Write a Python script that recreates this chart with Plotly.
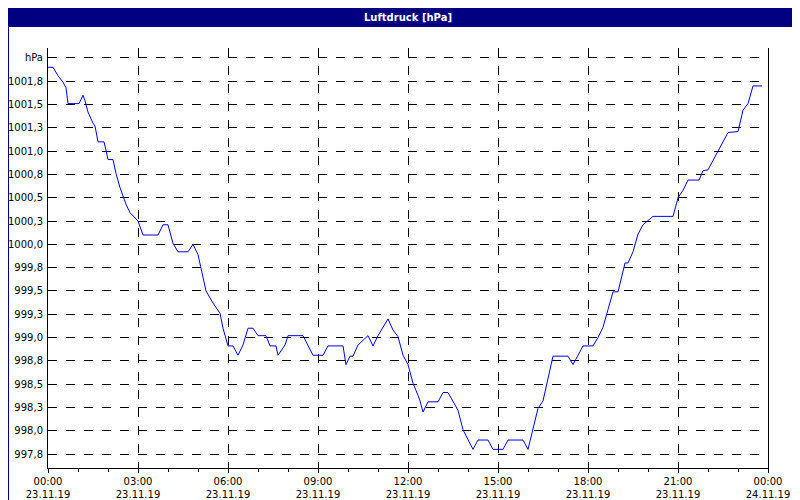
import plotly.graph_objects as go

times = ["00:00","00:10","00:20","00:30","00:36","00:40","01:02","01:10","01:14","01:20","01:30","01:34","01:40","01:52","01:56",
"02:00","02:10","02:16","02:24","02:30","02:36","02:44","03:00","03:10","03:40","03:50","04:00","04:10","04:20","04:40","04:50",
"05:00","05:16","05:30","05:44","05:50","06:00","06:10","06:20","06:30","06:40","06:50","07:00","07:16","07:24","07:36","07:40",
"07:54","08:00","08:30","08:50","09:10","09:20","09:50","09:56","10:04","10:10","10:20","10:40","10:50","11:00","11:20","11:30",
"11:40","11:50","12:00","12:10","12:20","12:24","12:30","12:40","13:00","13:10","13:20","13:30","13:40","13:50","14:00","14:10",
"14:20","14:40","14:50","15:10","15:20","15:50","16:00","16:10","16:20","16:30","16:36","16:50","17:20","17:30","17:50","18:10",
"18:20","18:30","18:40","18:50","19:00","19:14","19:20","19:30","19:40","19:50","20:10","20:50","21:00","21:10","21:20","21:42",
"21:50","22:00","22:20","22:40","23:00","23:10","23:20","23:30","23:48"]
pressure = [1001.90,1001.90,1001.81,1001.74,1001.68,1001.51,1001.51,1001.60,1001.54,1001.42,1001.30,1001.27,1001.10,1001.10,1001.01,
1000.91,1000.91,1000.76,1000.61,1000.51,1000.43,1000.34,1000.25,1000.10,1000.10,1000.21,1000.21,1000.01,999.92,999.92,1000.00,
999.89,999.50,999.37,999.26,999.10,998.91,998.91,998.81,998.92,999.10,999.10,999.02,999.02,998.91,998.91,998.81,
998.92,999.02,999.02,998.81,998.81,998.91,998.91,998.71,998.80,998.80,998.92,999.02,998.91,999.02,999.20,999.08,
999.01,998.81,998.71,998.51,998.38,998.32,998.20,998.31,998.31,998.41,998.41,998.31,998.22,998.01,997.90,997.80,
997.90,997.90,997.80,997.80,997.90,997.90,997.80,998.03,998.24,998.32,998.46,998.80,998.80,998.71,998.91,998.91,
999.00,999.11,999.30,999.49,999.49,999.80,999.80,999.92,1000.11,1000.21,1000.30,1000.30,1000.50,1000.58,1000.69,1000.69,
1000.79,1000.80,1001.00,1001.20,1001.21,1001.44,1001.51,1001.70,1001.70]

x_ticks = ["2019-11-23 00:00","2019-11-23 03:00","2019-11-23 06:00","2019-11-23 09:00","2019-11-23 12:00",
           "2019-11-23 15:00","2019-11-23 18:00","2019-11-23 21:00","2019-11-24 00:00"]
x_ticktext = ["00:00<br>23.11.19","03:00<br>23.11.19","06:00<br>23.11.19","09:00<br>23.11.19","12:00<br>23.11.19",
              "15:00<br>23.11.19","18:00<br>23.11.19","21:00<br>23.11.19","00:00<br>24.11.19"]
y_ticks = [997.75,998.0,998.25,998.5,998.75,999.0,999.25,999.5,999.75,1000.0,1000.25,1000.5,1000.75,1001.0,1001.25,1001.5,1001.75,1002.0]
y_ticktext = ["997,8","998,0","998,3","998,5","998,8","999,0","999,3","999,5","999,8","1000,0","1000,3","1000,5","1000,8",
              "1001,0","1001,3","1001,5","1001,8","hPa"]

x = ["2019-11-23 " + t for t in times]
fig = go.Figure(go.Scatter(x=x, y=pressure, mode="lines", line=dict(color="#0000FF", width=1), hoverinfo="skip"))

font = dict(family="DejaVu Sans", size=10, color="black")
fig.update_layout(
    width=800, height=500, margin=dict(l=40, r=40, t=40, b=40),
    paper_bgcolor="white", plot_bgcolor="white", showlegend=False, font=font,
    xaxis=dict(range=["2019-11-23 00:00", "2019-11-24 00:00"], tickvals=x_ticks, ticktext=x_ticktext,
               showgrid=True, gridcolor="black", griddash="dash", gridwidth=1, automargin=False,
               showline=True, linecolor="black", linewidth=1, ticks="outside", ticklen=4, tickcolor="black",
               minor=dict(dtick=3600000, ticks="outside", ticklen=3, tickcolor="black", showgrid=False),
               zeroline=False, tickangle=0),
    yaxis=dict(range=[997.60, 1002.107], tickvals=y_ticks, ticktext=y_ticktext, automargin=False,
               showgrid=True, gridcolor="black", griddash="dash", gridwidth=1, ticklabelstandoff=2,
               showline=True, linecolor="black", linewidth=1, mirror=True, ticks="", zeroline=False),
    shapes=[
        dict(type="rect", xref="paper", yref="paper", x0=-40/720, x1=1+40/720, y0=(460-19)/420, y1=460/420,
             fillcolor="#000080", line=dict(width=0), layer="below"),
        dict(type="rect", xref="paper", yref="paper", x0=-39.5/720, x1=1+39.5/720, y0=(460-499.5)/420, y1=459.5/420,
             line=dict(color="#000080", width=1)),
    ],
    annotations=[dict(text="<b>Luftdruck [hPa]</b>", xref="paper", yref="paper", x=0.5, y=(460-9.5)/420,
                      showarrow=False, font=dict(family="DejaVu Sans", size=10, color="white"), yanchor="middle")],
)
fig.write_html("out.html")
